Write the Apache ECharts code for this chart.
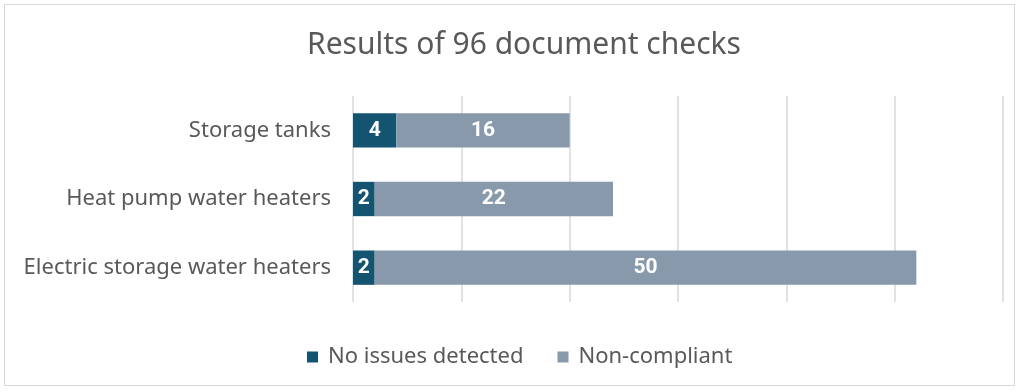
<!DOCTYPE html>
<html>
<head>
<meta charset="utf-8">
<script src="https://cdn.jsdelivr.net/npm/echarts@6/dist/echarts.min.js"></script>
<style>
  html, body { margin: 0; padding: 0; background: #fff; }
  #wrap { position: absolute; left: 4px; top: 4px; width: 1011px; height: 382px; border: 1px solid #d9d9d9; box-sizing: border-box; }
  #chart { position: absolute; left: 0; top: 0; width: 1021px; height: 392px; }
</style>
</head>
<body>
<div id="wrap"></div>
<div id="chart"></div>
<script>
// Product groups, listed top to bottom
const categories = ['Storage tanks', 'Heat pump water heaters', 'Electric storage water heaters'];
const noIssues = [4, 2, 2];
const nonCompliant = [16, 22, 50];

const chart = echarts.init(document.getElementById('chart'), null, { renderer: 'canvas' });

const textFont = '"Noto Sans", "Open Sans", sans-serif';

const labelStyle = {
  show: true,
  position: 'inside',
  color: '#ffffff',
  fontWeight: 'bold',
  fontSize: 21,
  fontFamily: '"Roboto", sans-serif'
};

chart.setOption({
  animation: false,
  title: {
    text: 'Results of 96 document checks',
    left: 519,
    textAlign: 'center',
    top: 25,
    textStyle: { color: '#595959', fontSize: 30, fontWeight: 'normal', fontFamily: textFont }
  },
  legend: {
    top: 341,
    left: 302,
    itemWidth: 11,
    itemHeight: 11,
    itemGap: 34,
    icon: 'rect',
    textStyle: { color: '#595959', fontSize: 22, fontFamily: textFont, padding: [0, 0, 0, 5] },
    data: ['No issues detected', 'Non-compliant']
  },
  grid: { left: 353, right: 18, top: 96, bottom: 90 },
  xAxis: {
    type: 'value',
    min: 0,
    max: 60,
    interval: 10,
    axisLabel: { show: false },
    axisLine: { show: false },
    axisTick: { show: false },
    splitLine: { show: true, lineStyle: { color: '#d9d9d9', width: 1.5 } }
  },
  yAxis: {
    type: 'category',
    data: categories,
    inverse: true,
    axisLine: { show: false },
    axisTick: { show: false },
    axisLabel: { color: '#595959', fontSize: 22, margin: 22, fontFamily: textFont }
  },
  series: [
    {
      name: 'No issues detected',
      type: 'bar',
      stack: 'total',
      barWidth: '50%',
      data: noIssues,
      itemStyle: { color: '#155470' },
      label: labelStyle
    },
    {
      name: 'Non-compliant',
      type: 'bar',
      stack: 'total',
      barWidth: '50%',
      data: nonCompliant,
      itemStyle: { color: '#8799aa' },
      label: labelStyle
    }
  ]
});
</script>
</body>
</html>
